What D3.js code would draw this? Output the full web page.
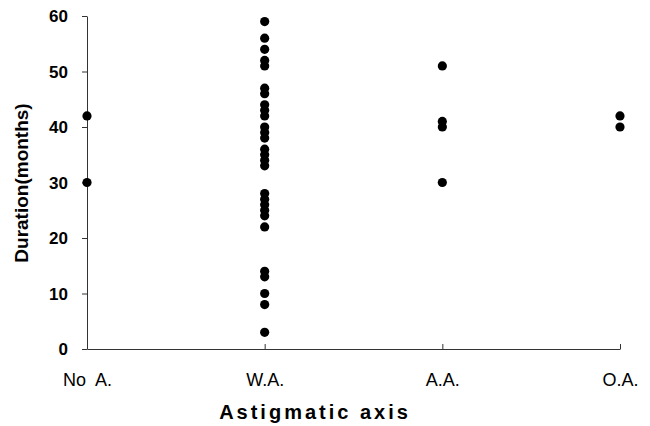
<!DOCTYPE html>
<html><head><meta charset="utf-8">
<script src="https://cdnjs.cloudflare.com/ajax/libs/d3/7.8.5/d3.min.js"></script>
<style>body{margin:0;background:#fff}svg{display:block}</style>
</head><body>
<script>
const categories = ["No A.", "W.A.", "A.A.", "O.A."];
const noA = [42, 30];
const wA = [59, 56, 54, 52, 51, 47, 46, 44, 43, 42, 40, 39, 38, 36, 35, 34, 33, 28, 27, 26, 25, 24, 22, 14, 13, 10, 8, 3];
const aA = [51, 41, 40, 30];
const oA = [42, 40];
const yTicks = [0, 10, 20, 30, 40, 50, 60];
const seriesByCat = [noA, wA, aA, oA];

const W = 650, H = 426;
const FONT = "'Liberation Sans', Arial, sans-serif";
const svg = d3.select("body").append("svg").attr("width", W).attr("height", H);
const x = d3.scalePoint().domain(categories).range([87, 620]);
const y = d3.scaleLinear().domain([0, 60]).range([349, 16]);

// y axis
const yAxis = svg.append("g").attr("transform", "translate(87,0)")
  .call(d3.axisLeft(y).tickValues(yTicks).tickSize(5).tickSizeOuter(0));
yAxis.select(".domain").attr("stroke", "#333").attr("stroke-width", 1);
yAxis.selectAll(".tick line").attr("stroke", "#333");
yAxis.selectAll(".tick text").attr("x", -19).attr("dy", "0.35em")
  .style("font-family", FONT).style("font-size", "17px").style("font-weight", "bold").attr("fill", "#000");

// x axis
const xAxis = svg.append("g").attr("transform", "translate(0,349)")
  .call(d3.axisBottom(x).tickSize(-5).tickSizeOuter(0));
xAxis.select(".domain").attr("stroke", "#333").attr("stroke-width", 1);
xAxis.selectAll(".tick line").attr("stroke", "#333").attr("opacity", (d, i) => i === 0 ? 0 : 1);
xAxis.selectAll(".tick text").attr("y", 32).attr("dy", "0")
  .attr("dominant-baseline", "middle")
  .style("font-family", FONT).style("font-size", "18px").attr("fill", "#000")
  .text(d => d === "No A." ? "No\u00a0 A." : d);

// titles
svg.append("text").attr("x", 315).attr("y", 414).attr("text-anchor", "middle").attr("dominant-baseline", "middle")
  .style("font-family", FONT).style("font-size", "20px").style("font-weight", "bold")
  .style("letter-spacing", "3px").text("Astigmatic axis");
svg.append("text").attr("transform", "translate(23,183) rotate(-90)").attr("text-anchor", "middle").attr("dominant-baseline", "middle")
  .style("font-family", FONT).style("font-size", "19px").style("font-weight", "bold")
  .text("Duration(months)");

// points
const pts = [];
seriesByCat.forEach((vals, i) => vals.forEach(v => pts.push({c: categories[i], v})));
svg.append("g").selectAll("circle").data(pts).enter().append("circle")
  .attr("cx", d => x(d.c)).attr("cy", d => y(d.v)).attr("r", 4.6).attr("fill", "#000");
</script>
</body></html>
